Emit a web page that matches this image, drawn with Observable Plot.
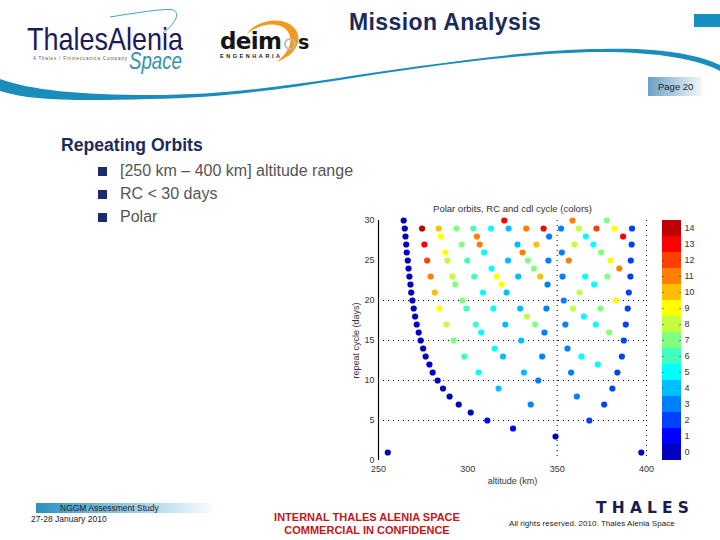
<!DOCTYPE html>
<html><head><meta charset="utf-8">
<script src="https://cdn.jsdelivr.net/npm/d3@7"></script>
<script src="https://cdn.jsdelivr.net/npm/@observablehq/plot@0.6"></script>
<style>
html,body{margin:0;padding:0;background:#fff}
body{width:720px;height:540px;position:relative;overflow:hidden;font-family:"Liberation Sans",Arial,sans-serif}
.a{position:absolute;white-space:nowrap;line-height:1}
svg{font-family:"Liberation Sans",Arial,sans-serif}
</style></head><body>
<svg class="a" style="left:0;top:0" width="720" height="110" viewBox="0 0 720 110">
<defs><linearGradient id="pg" x1="0" x2="1"><stop offset="0" stop-color="#6a9fc6"/><stop offset="1" stop-color="#f4f8fb"/></linearGradient></defs>
<path d="M0 79C30 90 80 95 150 95C250 95 330 78 420 66C480 58 550 49 600 49C660 47 700 55 720 65L720 71C700 60 660 52 600 52C550 52 480 60 420 68C330 80 250 98 150 99C80 101 30 101 0 91Z" fill="#1b8dbb"/>
<rect x="694" y="14" width="26" height="13" fill="#1590c0"/>
<rect x="648" y="77" width="54" height="19" fill="url(#pg)"/>
<path d="M110 17C135 13 165 8 173 10C181 13 175 24 163 33" fill="none" stroke="#3fa3bd" stroke-width="1"/>
<path d="M247 34C255 20 285 14 296 30C303 42 295 55 277 62C288 52 294 42 288 32C280 20 258 24 247 34Z" fill="#f09a20"/>
<circle cx="290" cy="44" r="5" fill="none" stroke="#bbb" stroke-width="2"/>
<text x="27" y="50" font-size="31.5" fill="#1c1c5c" textLength="156" lengthAdjust="spacingAndGlyphs">ThalesAlenia</text>
<text x="129" y="69" font-size="23" font-style="italic" fill="#2f93ad" textLength="53" lengthAdjust="spacingAndGlyphs">Space</text>
<text x="33" y="60" font-size="4.5" fill="#555" textLength="94">A Thales / Finmeccanica Company</text>
<text x="220" y="49" font-size="23" font-weight="bold" fill="#151515" textLength="62" font-family="DejaVu Sans">deim</text>
<text x="298" y="49" font-size="19" font-weight="bold" fill="#151515" font-family="DejaVu Sans">s</text>
<text x="220" y="58" font-size="5.5" font-weight="bold" fill="#222" textLength="60">ENGENHARIA</text>
</svg>
<svg class="a" style="left:590px;top:496px" width="110" height="22" viewBox="590 496 110 22">
<text x="596" y="513" font-size="15.5" font-weight="bold" fill="#1c1c4c" textLength="93" lengthAdjust="spacing" font-family="DejaVu Sans">THALES</text>
</svg>
<div class="a" style="left:349px;top:11px;font-size:23px;font-weight:bold;color:#1c2a5c;letter-spacing:.4px">Mission Analysis</div>
<div class="a" style="left:658px;top:82px;font-size:9.5px;color:#222">Page 20</div>
<div class="a" style="left:61px;top:137px;font-size:17.6px;font-weight:bold;color:#1c2a5c">Repeating Orbits</div>
<div class="a" style="left:120px;top:163px;font-size:16px;color:#555">[250 km – 400 km] altitude range</div>
<div class="a" style="left:120px;top:186px;font-size:16px;color:#555">RC &lt; 30 days</div>
<div class="a" style="left:120px;top:209px;font-size:16px;color:#555">Polar</div>
<div class="a" style="left:98px;top:167px;width:9px;height:9px;background:#1c2c68"></div>
<div class="a" style="left:98px;top:190px;width:9px;height:9px;background:#1c2c68"></div>
<div class="a" style="left:98px;top:213px;width:9px;height:9px;background:#1c2c68"></div>
<div class="a" style="left:36px;top:503px;width:180px;height:10px;background:linear-gradient(90deg,#2a90bf,#fff)"></div>
<div class="a" style="left:60px;top:504px;font-size:8.5px;color:#222">NGGM Assessment Study</div>
<div class="a" style="left:31px;top:515px;font-size:8.5px;color:#222">27-28 January 2010</div>
<div class="a" style="left:240px;width:254px;top:511px;text-align:center;font-size:11px;font-weight:bold;color:#c01818;line-height:13px;white-space:normal">INTERNAL THALES ALENIA SPACE<br>COMMERCIAL IN CONFIDENCE</div>
<div class="a" style="left:509px;top:520px;font-size:8px;color:#222;letter-spacing:.05px">All rights reserved. 2010. Thales Alenia Space</div>
<div id="chart" class="a" style="left:340px;top:200px"></div>
<div id="bar" class="a" style="left:650px;top:200px"></div>
<script>
const chartTitle = "Polar orbits, RC and cdl cycle (colors)";
const xTicks = [250, 300, 350, 400];
const yTicks = [0, 5, 10, 15, 20, 25, 30];
const levels = [0,1,2,3,4,5,6,7,8,9,10,11,12,13,14];
const palette = ["#0000bf","#0000ff","#0040ff","#0080ff","#00bfff","#00ffff","#40ffbf","#80ff80","#bfff40","#ffff00","#ffbf00","#ff8000","#ff4000","#ff0000","#bf0000"];

const repeatCycle = [
30,30,30,30,
29,29,29,29,29,29,29,29,29,29,29,29,29,29,
28,28,28,28,28,28,
27,27,27,27,27,27,27,27,27,
26,26,26,26,26,26,
25,25,25,25,25,25,25,25,25,25,
24,24,24,24,
23,23,23,23,23,23,23,23,23,23,23,
22,22,22,22,22,
21,21,21,21,21,21,
20,20,20,20,
19,19,19,19,19,19,19,19,19,
18,18,18,
17,17,17,17,17,17,17,17,
16,16,16,16,
15,15,15,15,
14,14,14,
13,13,13,13,13,13,
12,12,
11,11,11,11,11,
10,10,
9,9,9,
8,8,
7,7,7,
6,
5,5,
4,
3,
1,1];
const altitude = [
264.1,320.4,358.6,377.8,
264.7,274.4,283.7,293.6,303.1,313,322.8,332.7,342.4,352.2,362.1,372,382,391.9,
265.1,285,305.1,345.5,366,386.9,
265.5,275.7,296.5,306.6,327.8,338.4,359.7,370.3,391.7,
265.8,287.4,309.1,330.6,352.6,374.6,
266.4,277.2,288.6,299.7,322.5,333.6,345.1,356.5,379.8,391.2,
266.8,313.3,337,384.8,
267.3,279.2,291.3,303.6,316.1,328.2,340.5,353,365.7,378.1,391,
267.9,293,318.9,344.6,370.7,
268.3,281.5,308.5,321.7,362.5,390.1,
269,296.9,353.7,382.8,
269.7,284.1,299.2,314.3,329.3,344,358.9,374.2,389.5,
270.5,333.1,364.9,
271.4,288,304.4,321,337.7,354.6,371.6,388.4,
272.5,307.5,342.9,379.1,
273.6,292.1,329.9,387.3,
275,315,355.8,
276.4,298,319.7,341.6,363.6,386.2,
278.5,372.7,
280.3,306,331.4,357.8,383.7,
283.1,339.4,
286.1,317.2,380.9,
289.8,361,
294.9,335.2,376.3,
301.6,
310.9,368,
325.3,
349.1,
255.2,397.1];
const colorCycle = [
0,13,11,7,
0,14,10,7,6,5,4,11,13,3,8,12,9,2,
0,9,11,3,5,13,
0,13,7,11,4,10,8,5,2,
0,9,5,11,3,7,
0,12,8,6,4,7,3,11,9,2,
0,5,7,11,
0,11,8,6,9,4,10,3,5,7,2,
0,7,9,3,5,
0,10,5,4,8,2,
0,7,3,9,
0,9,6,5,4,3,8,7,2,
0,8,5,
0,8,6,4,7,3,5,2,
0,5,3,7,
0,7,4,2,
0,5,3,
0,6,4,3,5,2,
0,5,
0,5,4,3,2,
0,3,
0,4,2,
0,3,
0,3,2,
0,
1,2,
1,
0,
0,0];

const points = altitude.map((a,i)=>({altitude:a, cycle:repeatCycle[i], color:colorCycle[i]}));
const colorScale = {type:"ordinal", domain:levels, range:palette};

document.getElementById("chart").append(Plot.plot({
  width:340, height:290, marginLeft:38, marginRight:34, marginTop:20, marginBottom:30,
  style:{background:"transparent", fontSize:"9px", color:"#333"},
  x:{domain:[250,400], ticks:xTicks, line:false},
  y:{domain:[0,30], ticks:yTicks},
  color:colorScale,
  marks:[
    Plot.gridY([5,10,15,20],{stroke:"#000",strokeOpacity:1,strokeWidth:1,strokeDasharray:"1,4"}),
    Plot.gridX([350,400],{stroke:"#000",strokeOpacity:1,strokeWidth:1,strokeDasharray:"1,4"}),
    Plot.ruleX([250],{stroke:"#000",strokeWidth:1.2}),
    Plot.axisX({ticks:xTicks,tickSize:0,tickPadding:5,label:"altitude (km)",labelAnchor:"center",labelArrow:"none",labelOffset:23,fontSize:9}),
    Plot.axisY({ticks:yTicks,tickSize:0,tickPadding:4,label:"repeat cycle (days)",labelAnchor:"center",labelArrow:"none",labelOffset:26,fontSize:9}),
    Plot.dot(points,{x:"altitude",y:"cycle",fill:"color",r:3.1,stroke:"none"}),
    Plot.text([chartTitle],{frameAnchor:"top",dy:-15,x:()=>325,fontSize:9.5,fill:"#333"})
  ]
}));

const bandRows = levels.map(l=>({y1:l,y2:l+1,color:l}));
const barTicks = levels.map(l=>l+0.5);
document.getElementById("bar").append(Plot.plot({
  width:70, height:290, marginLeft:12, marginRight:39, marginTop:20, marginBottom:30,
  style:{background:"transparent", fontSize:"9px", color:"#333"},
  x:{domain:[0,1],axis:null},
  y:{domain:[0,15],axis:null},
  color:colorScale,
  marks:[
    Plot.rect(bandRows,{x1:()=>0,x2:()=>1,y1:"y1",y2:"y2",fill:"color"}),
    Plot.ruleY(barTicks,{x1:()=>0,x2:()=>0.1,stroke:"#333",strokeWidth:0.6}),
    Plot.ruleY(barTicks,{x1:()=>0.9,x2:()=>1,stroke:"#333",strokeWidth:0.6}),
    Plot.axisY(barTicks,{anchor:"right",tickSize:0,tickPadding:3,tickFormat:d=>String(d-0.5),label:null,fontSize:9})
  ]
}));
</script>
</body></html>
